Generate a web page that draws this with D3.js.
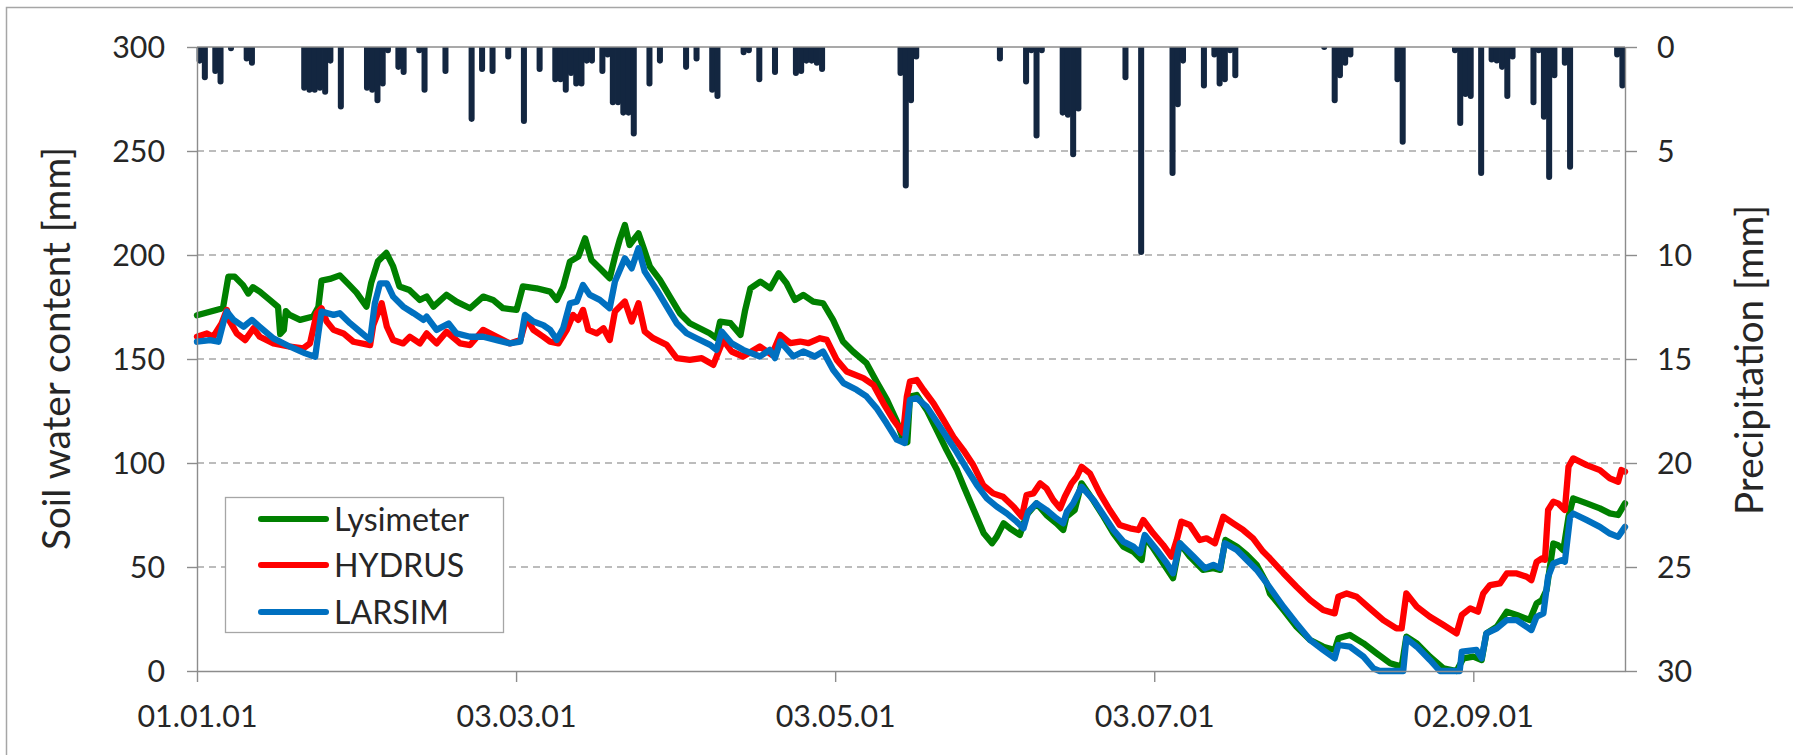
<!DOCTYPE html>
<html><head><meta charset="utf-8">
<script src="https://cdn.jsdelivr.net/npm/d3@7"></script>
<style>html,body{margin:0;padding:0;background:#fff;} svg{display:block;}</style>
</head><body><svg id="c" width="1793" height="755"></svg>
<script>
// ---------------- data ----------------
const xTickDays = [0, 61, 122, 183, 244];
const xTickLabels = ["01.01.01", "03.03.01", "03.05.01", "03.07.01", "02.09.01"];
const swcTicks = [0, 50, 100, 150, 200, 250, 300];
const precipTicks = [0, 5, 10, 15, 20, 25, 30];
const seriesNames = ["Lysimeter", "HYDRUS", "LARSIM"];
const seriesColors = ["#008000", "#ff0000", "#0070c0"];

// daily precipitation [mm], day 0 = 01.01.01
const precipitation = [
  0.8,1.6,0,1.3,1.8,0,0.2,0,0,0.7,
  0.9,0,0,0,0,0,0,0,0,0,
  2.1,2.2,2.2,2.1,2.3,0.8,0,3.0,0,0,
  0,0,2.1,2.2,2.7,1.9,0.3,0,1.1,1.35,
  0,0,0.3,2.2,0,0,0,1.3,0,0,
  0,0,3.6,0,1.2,0,1.3,0,0,0.6,
  0,0,3.7,0,0,1.2,0,0,1.7,1.7,
  2.2,1.4,1.9,1.9,0.8,0.8,0,1.3,0.5,2.8,
  2.8,3.3,3.3,4.3,0,0,1.9,0,0.8,0,
  0,0,0,1.1,0,0.7,0,0,2.2,2.5,
  0,0,0,0,0.4,0.3,0,1.7,0,0,
  1.35,0,0,0,1.4,1.3,0.8,0.8,0.9,1.2,
  0,0,0,0,0,0,0,0,0,0,
  0,0,0,0,1.4,6.8,2.7,0.6,0,0,
  0,0,0,0,0,0,0,0,0,0,
  0,0,0,0.7,0,0,0,0,1.8,0.3,
  4.4,0.3,0,0,0,3.3,3.4,5.3,3.1,0,
  0,0,0,0,0,0,0,1.6,0,0,
  10.0,0,0,0,0,0,6.2,2.9,0.8,0,
  0,0,2.0,0,0.5,1.9,1.7,0.3,1.5,0,
  0,0,0,0,0,0,0,0,0,0,
  0,0,0,0,0,0.1,0,2.7,1.5,0.9,
  0.5,0,0,0,0,0,0,0,0,1.7,
  4.7,0,0,0,0,0,0,0,0,0,
  0.3,3.8,2.4,2.5,0,6.2,0,0.75,0.8,1.1,
  2.5,0.6,0,0,0,2.8,0.3,3.5,6.4,1.5,
  0,0.9,5.9,0,0,0,0,0,0,0,
  0,0.5,2.0
];

// soil water content [mm] as [day, value]
const lysimeter = [
[0,171],[4.4,174],[5.0,175],[6.0,189.6],[7.2,189.6],[8.8,185.5],[9.8,181.5],[10.7,184.5],[12.0,182.4],[13.9,178.4],[15.5,175],[15.9,162],[16.6,164],[17.0,173],[17.7,171.2],[19.7,168.8],[22.2,170.4],[23.2,175],[23.8,187.7],[25.4,188.5],[27.3,190.2],[28.9,186.1],[30.5,181.9],[32.4,175.2],[33.3,186.6],[34.6,197],[36.2,201],[37.5,194.5],[38.7,184.9],[40.6,183.2],[42.6,178.4],[43.9,180],[45.2,175.2],[47.7,180.9],[49.6,177.6],[52.2,174.4],[54.7,180],[56.6,178.4],[58.5,174.4],[61.1,173.6],[62.3,184.9],[64.9,184],
[67.5,182.4],[68.8,178.4],[70.0,184.8],[71.3,196.8],[72.9,199.2],[74.2,208],[75.4,197.6],[77.0,193.6],[78.9,188.8],[79.9,199.2],[80.8,207.2],[81.8,214.4],[82.7,204.8],[84.4,210.4],[85.4,203.2],[86.6,194.4],[88.5,188],[90.4,180],[92.3,172],[94.2,167.2],[96.1,164.8],[98.0,162.4],[99.3,160],[100.0,168],[102.0,167.2],[103.9,161.6],[104.8,173.6],[105.8,184],[107.7,187.2],[109.6,184],[111.2,191.2],[112.7,186.4],[114.3,178.4],[115.9,180.8],[117.8,177.6],[119.7,176.8],[121.6,168.8],[123.5,158.4],[125.4,153.6],[128.0,148],[129.9,139.2],[131.9,130.4],[133.8,120],[135.0,111.2],[135.8,110],
[136.3,131.9],[137.6,132.7],[139.5,125.5],[141.4,115.9],[143.3,106.2],[145.3,96.6],[146.6,88.6],[148.5,77.4],[150.4,66.2],[152.0,61.4],[152.9,64.6],[154.2,71],[155.4,68.6],[157.3,65.4],[158.6,75],[160.5,80.6],[162.4,75],[164.3,71],[165.6,67.8],[166.2,74.2],[167.8,77.4],[169.1,90.2],[171.3,82.2],[173.3,74.2],[175.2,66.2],[177.1,59.8],[179.0,57.4],[180.6,53.4],[181.2,64.6],[182.8,59],[184.7,51.8],[186.6,44.6],[187.9,61.4],[189.8,55],[192.3,48.6],[194.3,49.4],[195.6,48.6],[196.6,63],[198.8,59.8],[200.7,55.8],[202.6,51],[204.5,42.2],
[205.1,37.3],[207.7,29.3],[210.2,21.3],[212.8,14.9],[215.3,11.7],[217.5,10.1],[218.2,15.7],[220.4,17.3],[223.0,13.3],[225.5,8.5],[228.1,3.7],[230.3,2.1],[231.2,16.5],[233.2,13.3],[235.7,6.9],[238.3,1.3],[240.8,0],[242.1,6.1],[244.0,6.9],[245.6,5.3],[246.5,18.1],[248.5,21.3],[250.4,28.5],[252.3,26.9],[254.8,24.5],[256.1,32.5],[257.1,34.1],[258.0,38.9],[259.3,61.3],[260.2,60.5],[261.2,58.1],[262.2,74.1],[263.1,83],[265.7,80.6],[268.2,78.2],[270.1,75.8],[271.7,75],[273,80.6]
];
const hydrus = [
[0,160.7],[1.9,162.3],[3.1,160.7],[4.7,167.1],[5.7,173.6],[6.3,168],[7.6,162.3],[9.2,159.1],[10.8,164.7],[12.0,160.7],[14.6,157.5],[17.8,155.9],[20.3,155.1],[21.6,157.5],[22.9,172],[23.8,174.4],[24.8,168],[26.1,164],[28.0,162.3],[29.9,158.3],[33.1,156.7],[33.7,166.3],[35.3,176.8],[36.3,165.5],[37.5,159.1],[39.4,157.5],[40.7,160.7],[42.6,157.5],[43.9,162.3],[45.8,157.5],[47.7,163.1],[50.3,157.5],[52.2,156.7],[54.7,164],[57.3,160.7],[59.8,157.5],[61.8,159.1],[63.0,169.6],[64.3,164],[66.2,160.7],
[67.5,158.3],[69.1,157.5],[70.7,164],[71.9,171.2],[72.9,168.8],[73.8,173.6],[74.8,164],[76.4,162.3],[77.7,164.8],[78.9,159.1],[79.9,172.8],[81.8,177.6],[83.1,168],[84.4,176.8],[85.6,163.2],[87.2,160],[89.8,156.8],[91.7,150.4],[94.2,149.6],[96.5,150.4],[98.7,147.2],[100.6,159.2],[102.2,153.6],[104.4,151.2],[107.6,156],[109.9,152],[111.5,161.6],[113.4,157.6],[115.3,158.4],[116.9,157.6],[119.1,160],[120.4,159.2],[122.3,149.6],[124.2,144],[127.4,140.8],[129.3,137.6],[131.2,128.8],[133.1,120.8],[135.0,114.4],
[135.7,131.9],[136.3,139.1],[137.6,139.9],[138.9,135.1],[140.8,128.7],[142.7,120.7],[144.6,112.6],[146.5,106.2],[148.4,99],[150.3,89.4],[152.2,85.4],[154.1,83.8],[156.1,79],[157.7,74.2],[158.6,84.6],[159.9,85.4],[161.2,90.2],[162.4,87.8],[163.7,82.2],[165.0,78.2],[165.9,83.8],[167.2,90.2],[168.2,93.4],[169.1,98.2],[170.7,95],[172.6,85.4],[174.5,77.4],[176.4,70.2],[178.4,68.6],[180.0,67.8],[180.9,72.6],[182.8,66.2],[184.7,60.6],[186.3,55],[187.3,63],[188.2,71.8],[189.8,70.2],[191.7,63],[193.0,63.8],[194.6,61.4],[196.2,74.2],[198.1,71],[200.0,67.8],[201.9,63.8],[203.8,57.4],
[205.1,54.2],[207.7,47],[210.2,40.5],[212.8,34.1],[215.3,29.3],[217.5,27.7],[218.2,35.7],[219.8,37.3],[221.7,35.7],[224.2,30.1],[226.8,24.5],[229.3,20.5],[230.3,20.5],[231.2,37.3],[233.2,30.9],[235.7,26.1],[238.3,22.1],[240.8,18.1],[241.8,26.9],[243.4,30.1],[244.9,28.5],[245.9,37.3],[247.2,41.3],[249.1,42.1],[250.4,46.9],[252.3,46.9],[254.2,45.3],[255.1,43.7],[256.1,52.5],[257.1,54.1],[257.7,53.5],[258.3,77.4],[259.3,81.4],[260.2,80.6],[261.5,77.4],[262.2,98.2],[263.1,102.2],[265.7,99],[268.2,96.6],[270.1,92.6],[271.7,91],[272.3,96.6],[273,95.8]
];
const larsim = [
[0,158.3],[2.5,159.1],[4.1,158.3],[5.0,167.1],[5.7,172.8],[7.0,168.8],[8.9,165.5],[10.5,168.8],[12.0,165.5],[14.6,159.9],[17.8,155.9],[20.7,152.7],[22.6,151.1],[23.2,162.3],[23.8,172.8],[26.1,171.2],[27.3,172],[29.3,167.1],[31.2,163.1],[33.1,159.1],[34.0,176.8],[35.0,186.4],[36.3,186.4],[37.5,180],[39.4,175.2],[41.4,172],[43.3,168.8],[43.9,170.4],[45.8,164],[48.1,167.1],[49.6,162.3],[52.2,160.7],[54.7,160.7],[57.3,159.1],[59.8,157.5],[61.8,158.3],[62.7,171.2],[64.3,168],[66.2,166.3],
[67.5,164],[68.8,159.2],[70.0,164.8],[71.3,176.8],[72.6,177.6],[73.8,185.6],[75.1,180.8],[77.0,178.4],[78.9,174.4],[79.9,187.2],[81.8,198.4],[83.1,193.6],[84.4,203.2],[85.6,192],[87.9,183.2],[89.8,175.2],[91.7,167.2],[93.6,162.4],[95.5,160],[98.1,156.8],[99.3,154.4],[100.3,163.2],[102.2,157.6],[104.4,154.4],[107.6,151.2],[109.5,154.4],[110.5,150.4],[111.5,158.4],[114.0,151.2],[115.9,153.6],[118.1,151.2],[119.7,153.6],[121.6,144.8],[123.6,138.4],[126.1,135.2],[128.0,132],[129.9,126.4],[131.8,119.2],[133.8,111.2],[135.3,109.6],[136.3,130.4],[137.6,131.2],
[139.5,127.1],[141.4,119.9],[143.3,112.6],[145.2,105.4],[147.1,97.4],[149.1,89.4],[151.0,83],[152.9,79],[154.8,75.8],[156.7,71.8],[158.0,68.6],[158.9,76.6],[160.5,80.6],[162.4,77.4],[164.3,73.4],[165.6,71],[166.3,76.6],[167.5,80.6],[169.1,88.6],[171.4,82.2],[173.3,75],[175.2,67.8],[177.1,62.2],[179.0,59.8],[180.3,56.6],[181.2,65.4],[183.5,58.2],[185.4,51.8],[186.6,47],[187.9,61.4],[190.5,55],[192.7,49.4],[194.3,51],[195.6,49.4],[196.5,61.4],[198.8,58.2],[200.7,53.4],[202.6,48.6],[204.5,42.2],
[207.7,30.9],[210.2,22.9],[212.8,14.9],[215.3,10.1],[217.5,6.1],[218.2,12.5],[220.4,11.7],[223.0,6.9],[224.9,1.3],[226.1,0],[230.6,0],[231.2,15.7],[233.2,11.7],[235.7,5.3],[237.6,0],[241.4,0],[241.8,9.3],[244.6,10.1],[245.6,6.1],[246.5,18.1],[248.5,20.5],[250.4,24.5],[252.3,24.5],[255.1,19.7],[256.1,26.1],[257.4,27.7],[258.3,45.3],[259.3,51.7],[260.9,53.3],[261.5,52.5],[262.5,74.1],[263.1,75.7],[265.7,72.5],[268.2,69.3],[270.1,66.1],[271.7,64.5],[273,69.3]
];
const seriesData = [lysimeter, hydrus, larsim];

// ---------------- layout ----------------
const W = 1793, H = 755;
const L = 197, R = 1625, T = 47, B = 671;
const FONT = "Lato, 'Open Sans', 'DejaVu Sans', sans-serif";
const TEXT = "#262626", AXIS = "#8c8c8c", GRID = "#a6a6a6";

const svg = d3.select("#c");
svg.append("rect").attr("width", W).attr("height", H).attr("fill", "#fff");
svg.append("rect").attr("x", 6.5).attr("y", 7.5).attr("width", W).attr("height", H)
  .attr("fill", "none").attr("stroke", GRID).attr("stroke-width", 1.5);

const x = d3.scaleLinear().domain([0, 273]).range([L, R]);
const y = d3.scaleLinear().domain([0, 300]).range([B, T]);
const yp = d3.scaleLinear().domain([0, 30]).range([T, B]);

// gridlines
svg.append("g").selectAll("line").data(swcTicks.filter(v => v > 0 && v < 300)).join("line")
  .attr("x1", L).attr("x2", R).attr("y1", d => y(d)).attr("y2", d => y(d))
  .attr("stroke", GRID).attr("stroke-width", 1.3).attr("stroke-dasharray", "7,5");

// precipitation bars hanging from the top, with rounded lower ends
function barPath(p) {
  const x0 = x(p.d) - 0.4, x1 = x(p.d + 1) + 0.4;
  const r = (x1 - x0) / 2;
  const yb = Math.max(yp(p.v), yp(0) + r);
  return `M${x0},${yp(0)}V${yb - r}A${r},${r} 0 0 0 ${x1},${yb - r}V${yp(0)}Z`;
}
svg.append("g").selectAll("path")
  .data(precipitation.map((v, i) => ({ d: i, v })).filter(p => p.v > 0)).join("path")
  .attr("d", barPath).attr("fill", "#132640");

// soil water lines
const line = d3.line().x(p => x(p[0])).y(p => y(p[1]));
seriesData.forEach((s, i) => {
  svg.append("path").attr("d", line(s)).attr("fill", "none")
    .attr("stroke", seriesColors[i]).attr("stroke-width", 6.3)
    .attr("stroke-linejoin", "round").attr("stroke-linecap", "round");
});

// axes
const gL = svg.append("g").attr("transform", `translate(${L},0)`)
  .call(d3.axisLeft(y).tickValues(swcTicks).tickSize(10).tickSizeOuter(0).tickPadding(22));
const gR = svg.append("g").attr("transform", `translate(${R},0)`)
  .call(d3.axisRight(yp).tickValues(precipTicks).tickSize(12).tickSizeOuter(0).tickPadding(20));
const gB = svg.append("g").attr("transform", `translate(0,${B})`)
  .call(d3.axisBottom(x).tickValues(xTickDays).tickFormat((d, i) => xTickLabels[i]).tickSize(11).tickSizeOuter(0));
svg.append("line").attr("x1", L).attr("x2", R).attr("y1", T).attr("y2", T)
  .attr("stroke", AXIS).attr("stroke-width", 1.4);

[gL, gR, gB].forEach(g => {
  g.attr("font-family", FONT);
  g.selectAll(".domain, .tick line").attr("stroke", AXIS).attr("stroke-width", 1.4);
  g.selectAll("text").attr("fill", TEXT);
});

// fit tick font: "01.01.01" is about 120 px wide
gB.attr("font-size", 30);
const tw = gB.select(".tick text").node().getComputedTextLength();
const tickFs = 30 * 120 / tw;
[gL, gR, gB].forEach(g => g.attr("font-size", tickFs));
gL.selectAll("text").attr("dy", "0.36em");
gR.selectAll("text").attr("dy", "0.36em");
gB.selectAll("text").attr("y", 56).attr("dy", 0);

// axis titles
function fitText(sel, target) {
  const w = sel.node().getComputedTextLength();
  const fs = parseFloat(sel.attr("font-size"));
  sel.attr("font-size", fs * target / w);
}
const tL = svg.append("text").attr("transform", "translate(70,348.5) rotate(-90)")
  .attr("text-anchor", "middle").attr("font-family", FONT).attr("font-size", 36).attr("fill", TEXT)
  .text("Soil water content [mm]");
fitText(tL, 403);
const tR = svg.append("text").attr("transform", "translate(1763,360) rotate(-90)")
  .attr("text-anchor", "middle").attr("font-family", FONT).attr("font-size", 36).attr("fill", TEXT)
  .text("Precipitation [mm]");
fitText(tR, 310);

// legend
const lg = svg.append("g");
lg.append("rect").attr("x", 225.5).attr("y", 497.5).attr("width", 278).attr("height", 135)
  .attr("fill", "#fff").attr("stroke", GRID).attr("stroke-width", 1.3);
const legY = [519, 565, 612];
const legTexts = [];
seriesNames.forEach((n, i) => {
  lg.append("line").attr("x1", 261).attr("x2", 326).attr("y1", legY[i]).attr("y2", legY[i])
    .attr("stroke", seriesColors[i]).attr("stroke-width", 6).attr("stroke-linecap", "round");
  legTexts.push(lg.append("text").attr("x", 334).attr("y", legY[i]).attr("dy", "0.36em")
    .attr("font-family", FONT).attr("font-size", 30).attr("fill", TEXT).text(n));
});
const lw = legTexts[0].node().getComputedTextLength();
const legFs = 30 * 135 / lw;
legTexts.forEach(t => t.attr("font-size", legFs));
</script>
</body></html>
